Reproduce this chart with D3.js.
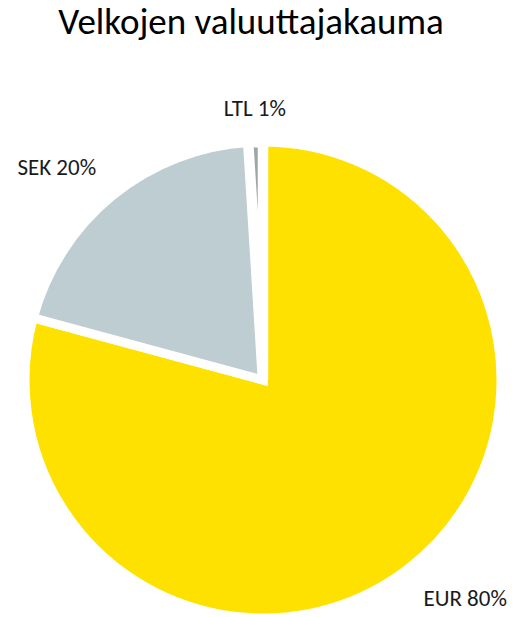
<!DOCTYPE html>
<html>
<head>
<meta charset="utf-8">
<script src="https://cdn.jsdelivr.net/npm/d3@7"></script>
<style>
  html, body { margin: 0; padding: 0; background: #ffffff; }
  svg { display: block; }
  text { font-family: Carlito, Calibri, Lato, "Open Sans", sans-serif; fill: #1a1a1a; }
</style>
</head>
<body>
<svg id="chart" width="517" height="617"></svg>
<script>
// Currency breakdown of debt
const currencies = ["EUR", "SEK", "LTL"];
const shares = [80, 20, 1];          // percent, as labelled
const colors = ["#FFE100", "#BECDD2", "#9FA6AA"];
const title = "Velkojen valuuttajakauma";

const width = 517, height = 617;
const cx = 263, cy = 380, radius = 238;

const svg = d3.select("#chart");

svg.append("text")
  .attr("x", 251)
  .attr("y", 34)
  .attr("text-anchor", "middle")
  .style("font-size", "37px")
  .style("fill", "#000")
  .text(title);

const data = currencies.map((c, i) => ({ name: c, value: shares[i], color: colors[i] }));

const pie = d3.pie().sort(null).value(d => d.value);
const arcs = pie(data);

const arc = d3.arc().innerRadius(0).outerRadius(radius);

const g = svg.append("g").attr("transform", `translate(${cx},${cy})`);

// White borders separate the slices; the thin LTL slice gets a slightly heavier one
g.selectAll("path.slice")
  .data(arcs)
  .join("path")
  .attr("class", "slice")
  .attr("d", arc)
  .attr("fill", d => d.data.color)
  .attr("stroke", "#ffffff")
  .attr("stroke-width", d => d.data.name === "LTL" ? 10.5 : 9)
  .attr("stroke-linejoin", "miter");

// Labels sit just outside the rim, on the slice's mid angle
const labelR = radius + 26;
const fs = 23;
const cap = fs * 0.72;
g.selectAll("text.lbl")
  .data(arcs)
  .join("text")
  .attr("class", "lbl")
  .style("font-size", fs + "px")
  .each(function(d) {
    const a = (d.startAngle + d.endAngle) / 2;
    const s = Math.sin(a), c = Math.cos(a);
    const x = labelR * s, y = -labelR * c;
    const anchor = s > 0.1 ? "start" : (s < -0.1 ? "end" : "middle");
    const by = c > 0.1 ? y : (c < -0.1 ? y + cap : y + cap / 2);
    d3.select(this)
      .attr("x", x)
      .attr("y", by)
      .attr("text-anchor", anchor)
      .text(`${d.data.name} ${d3.format(".0f")(d.data.value)}%`);
  });
</script>
</body>
</html>
